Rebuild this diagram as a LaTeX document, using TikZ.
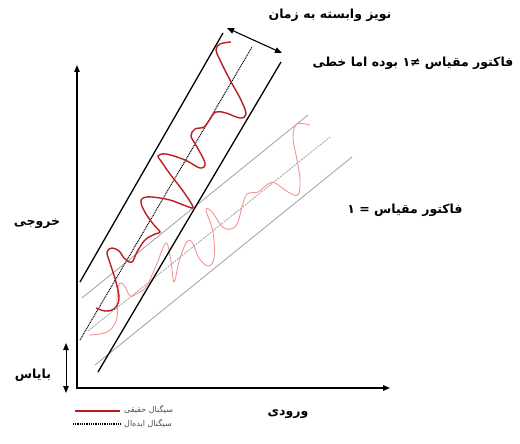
\documentclass[tikz,border=0pt]{standalone}
\usepackage{fontspec}
\newfontfamily\fa[Script=Arabic]{DejaVu Sans}
\TeXXeTstate=1
\usetikzlibrary{arrows.meta}
\definecolor{darkred}{RGB}{185,30,35}
\definecolor{pinkred}{RGB}{240,150,150}
\definecolor{lgray}{RGB}{160,160,160}
\tikzset{
  lbl/.style={inner sep=0pt, font=\fa\bfseries\fontsize{12.5}{14}\selectfont},
  leg/.style={inner sep=0pt, anchor=west, text=black!70, font=\fa\fontsize{8}{9}\selectfont},
  axisline/.style={line width=1.3pt, arrows={Triangle[length=7pt,width=5.5pt]-Triangle[length=7pt,width=5.5pt]}},
  dblarrow/.style={line width=1.1pt, arrows={Triangle[length=7pt,width=5.5pt]-Triangle[length=7pt,width=5.5pt]}},
  bandline/.style={line width=1.3pt, black},
  centerline/.style={line width=1pt, black, dash pattern=on 1pt off 0.8pt},
  grayline/.style={line width=0.8pt, lgray},
  graydot/.style={line width=0.8pt, lgray, dash pattern=on 2pt off 1pt},
  realsig/.style={line width=1.4pt, darkred},
  pinksig/.style={line width=0.9pt, pinkred},
}
\begin{document}
\begin{tikzpicture}[x=1pt,y=-1pt]
\useasboundingbox (0,0) rectangle (520,444);
% axes
\coordinate (O) at (77,388);
\coordinate (Ytip) at (77,65);
\coordinate (Xtip) at (390,388);
\draw[axisline] (Ytip) -- (O) -- (Xtip);
% gray band (scale factor = 1)
\coordinate (GUa) at (82,298); \coordinate (GUb) at (308,115);
\coordinate (GMa) at (88,331); \coordinate (GMb) at (330,137);
\coordinate (GLa) at (95,365); \coordinate (GLb) at (352,157);
\draw[grayline] (GUa) -- (GUb);
\draw[graydot] (GMa) -- (GMb);
\draw[grayline] (GLa) -- (GLb);
\draw[pinksig] plot[smooth, tension=0.6] coordinates {
 (89,335) (100,334) (110,330) (117,318) (117,298) (119,284) (124,285) (130,296)
 (136,294) (146,287) (156,266) (166,243) (171,262) (174,282) (179,262) (186,243)
 (192,242) (199,258) (208,266) (214,258) (213,232) (206,210) (212,212) (224,228)
 (236,226) (242,207) (247,194) (258,192) (268,184) (275,183) (288,192) (298,195)
 (300,180) (297,160) (293,137) (297,124) (310,125)};
% black band (scale factor != 1)
\coordinate (BLa) at (80,282); \coordinate (BLb) at (223,33);
\coordinate (BRa) at (98,372); \coordinate (BRb) at (281,62);
\coordinate (DCa) at (80,340); \coordinate (DCb) at (252,47);
\draw[bandline] (BLa) -- (BLb);
\draw[bandline] (BRa) -- (BRb);
\draw[centerline] (DCa) -- (DCb);
\draw[realsig] plot[smooth, tension=0.6] coordinates {
 (96,308) (105,311) (114,309) (119,299) (116,282) (110,263) (107,252) (112,248)
 (119,251) (125,259) (132,262) (137,252) (145,240) (155,234) (160,232) (154,225)
 (146,214) (141,203) (143,198) (152,197) (170,200) (186,206) (193,207) (183,191)
 (170,174) (161,161) (158,156) (166,154) (185,160) (200,168) (205,163) (197,147)
 (191,136) (195,129) (204,127) (210,119) (216,112) (226,113) (240,118) (246,114)
 (241,100) (230,80) (220,60) (216,50) (220,44) (231,42)};
% noise arrow
\coordinate (NA1) at (227,28); \coordinate (NA2) at (282,53);
\draw[dblarrow] (NA1) -- (NA2);
% bias arrow
\coordinate (BA1) at (66,343); \coordinate (BA2) at (66,393);
\draw[dblarrow, line width=0.9pt] (BA1) -- (BA2);
% labels
\node[lbl] (tnoise) at (330,15) {\fa\beginR نویز وابسته به زمان\endR};
\node[lbl] (tscale2) at (413,63) {\fa\beginR فاکتور مقیاس ≠۱ بوده اما خطی\endR};
\node[lbl] (tscale1) at (405,210) {\fa\beginR فاکتور مقیاس = ۱\endR};
\node[lbl] (tout) at (37,224) {\fa\beginR خروجی\endR};
\node[lbl] (tbias) at (33,375) {\fa\beginR بایاس\endR};
\node[lbl] (tin) at (288,414) {\fa\beginR ورودی\endR};
% legend
\coordinate (L1a) at (75,411); \coordinate (L1b) at (120,411);
\coordinate (L2a) at (73,424); \coordinate (L2b) at (120,424);
\draw[realsig, line width=1.2pt] (L1a) -- (L1b);
\draw[centerline, line width=1.2pt] (L2a) -- (L2b);
\node[leg] (leg1) at (124,410) {\beginR سیگنال حقیقی\endR};
\node[leg] (leg2) at (124,424) {\beginR سیگنال ایده‌ال\endR};
\end{tikzpicture}
\end{document}
